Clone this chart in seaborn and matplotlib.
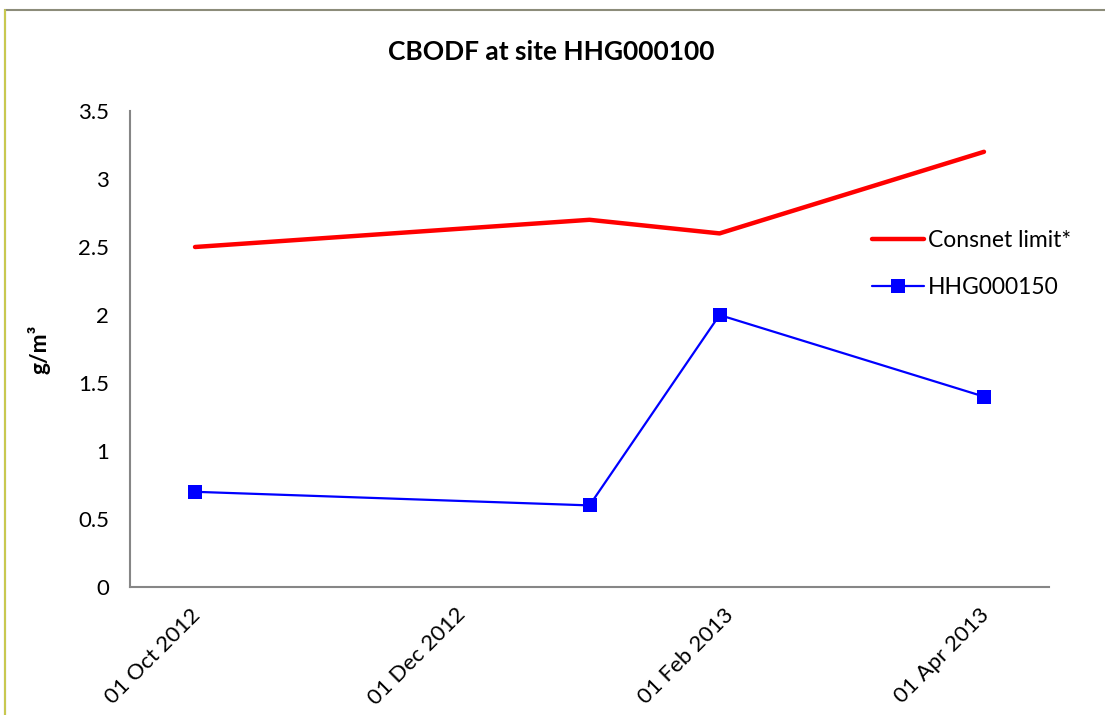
import pandas as pd
import numpy as np
import matplotlib.pyplot as plt
import matplotlib.transforms as mtransforms
import seaborn as sns
from matplotlib.patches import Rectangle

# values
dates = ['2012-10-16', '2013-01-15', '2013-02-14', '2013-04-16']
consnet_limit = [2.5, 2.7, 2.6, 3.2]
hhg000150 = [0.7, 0.6, 2.0, 1.4]
tick_dates = ['2012-10-01', '2012-12-01', '2013-02-01', '2013-04-01']
tick_labels = ['01 Oct 2012', '01 Dec 2012', '01 Feb 2013', '01 Apr 2013']

df = pd.DataFrame({'date': pd.to_datetime(dates),
                   'Consnet limit*': consnet_limit,
                   'HHG000150': hhg000150})

sns.set_style('white')
plt.rcParams['font.family'] = ['Lato', 'DejaVu Sans']
plt.rcParams['text.color'] = 'black'
plt.rcParams['axes.labelcolor'] = 'black'

fig = plt.figure(figsize=(11.05, 7.15), dpi=100)
ax = fig.add_axes([130/1105, 1-587/715, (1049-130)/1105, (587-111)/715])

sns.lineplot(data=df, x='date', y='Consnet limit*', ax=ax, color='#ff0000',
             linewidth=3.2, label='Consnet limit*')
sns.lineplot(data=df, x='date', y='HHG000150', ax=ax, color='#0000ff',
             linewidth=1.6, marker='s', markersize=10, markeredgewidth=0,
             label='HHG000150')

ax.set_xlim(pd.Timestamp('2012-10-01'), pd.Timestamp('2013-05-01'))
ax.set_ylim(0, 3.5)
ax.set_yticks(np.arange(0, 3.51, 0.5))
ax.set_yticklabels(['0', '0.5', '1', '1.5', '2', '2.5', '3', '3.5'])
ax.set_xticks(pd.to_datetime(tick_dates))
ax.set_xticklabels(tick_labels, rotation=45, ha='center', va='center',
                   rotation_mode='anchor')

for s in ['top', 'right']:
    ax.spines[s].set_visible(False)
for s in ['left', 'bottom']:
    ax.spines[s].set_color('#868686')
    ax.spines[s].set_linewidth(1.5)
ax.tick_params(axis='both', direction='out', length=6, width=1.2, color='#868686',
               labelsize=16, labelcolor='black')
ax.tick_params(axis='y', pad=9)

# shift the rotated date labels so their centres sit right of and below the ticks
offset = mtransforms.ScaledTranslation(23/100, -56/100, fig.dpi_scale_trans)
for lab in ax.get_xticklabels():
    lab.set_transform(lab.get_transform() + offset)

ax.set_xlabel('')
ax.set_ylabel('g/m³', fontsize=16.5, fontweight='bold')
ax.yaxis.set_label_coords(-0.087, 0.5)
ax.set_title('CBODF at site HHG000100', fontsize=19, fontweight='bold', pad=37)
ax.title.set_x((551 - 130) / 919)

ax.legend(loc='center left', bbox_to_anchor=(851/1105, 1-264/715),
          bbox_transform=fig.transFigure, frameon=False, fontsize=16.5,
          handlelength=2.3, labelspacing=1.1, handletextpad=0.15)

# chart area border
fig.patches.append(Rectangle((5/1105, -0.01), 1.1, 1 - 10/715 + 0.01, transform=fig.transFigure,
                             fill=False, edgecolor='#8c8c7a', linewidth=1.5))
fig.lines.append(plt.Line2D([5/1105, 5/1105], [0, 1 - 10/715], transform=fig.transFigure,
                            color='#c8c850', linewidth=1.5))

plt.savefig('out.png', dpi=100)
